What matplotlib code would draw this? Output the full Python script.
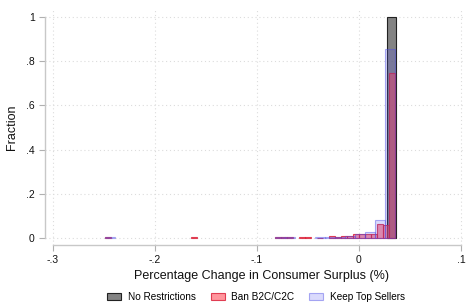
import matplotlib
matplotlib.use("Agg")
import matplotlib.pyplot as plt
from matplotlib.patches import Patch

plt.rcParams['font.family'] = ['Liberation Sans', 'DejaVu Sans']

# No Restrictions
black_centers = [0.0319]
black_heights = [1.0]

# Ban B2C/C2C
red_centers = [0.0321, 0.0262, 0.0203, 0.0144, 0.0085, 0.0027, -0.0032, -0.0091,
               -0.0150, -0.0209, -0.0267, -0.0385, -0.0503, -0.0562, -0.0679,
               -0.0738, -0.0797, -0.1620, -0.2461]
red_heights = [0.748, 0.057, 0.063, 0.018, 0.018, 0.018, 0.016, 0.010,
               0.009, 0.003, 0.007, 0.002, 0.003, 0.003, 0.003,
               0.003, 0.003, 0.003, 0.003]

# Keep Top Sellers
blue_centers = [0.0304, 0.0206, 0.0108, 0.0010, -0.0088, -0.0186, -0.0284,
                -0.0382, -0.0676, -0.0774, -0.2440]
blue_heights = [0.854, 0.080, 0.026, 0.018, 0.008, 0.004, 0.003,
                0.003, 0.003, 0.003, 0.003]

x_ticks = [-0.3, -0.2, -0.1, 0.0, 0.1]
x_labels = ["-.3", "-.2", "-.1", "0", ".1"]
y_ticks = [0, 0.2, 0.4, 0.6, 0.8, 1.0]
y_labels = ["0", ".2", ".4", ".6", ".8", "1"]

W, H = 467, 307
fig = plt.figure(figsize=(W / 100, H / 100), dpi=100)
ax = fig.add_axes([45 / W, 62 / H, 420 / W, 235 / H])

ax.bar(black_centers, black_heights, width=0.0088, color=(0.35, 0.35, 0.35, 0.75),
       edgecolor='#222222', linewidth=0.8, zorder=2)
ax.bar(red_centers, red_heights, width=0.00588, color=(1.0, 0.25, 0.3, 0.55),
       edgecolor=(0.85, 0.1, 0.2, 0.8), linewidth=0.8, zorder=3)
ax.bar(blue_centers, blue_heights, width=0.0098, color=(0.35, 0.35, 0.95, 0.22),
       edgecolor=(0.3, 0.3, 0.9, 0.45), linewidth=0.8, zorder=4)

ax.set_xlim(-0.3 - 8 / 1020, 0.1 + 4 / 1020)
ax.set_ylim(-7 / 221, 1 + 7 / 221)

ax.set_xticks(x_ticks)
ax.set_xticklabels(x_labels)
ax.set_yticks(y_ticks)
ax.set_yticklabels(y_labels)

for s in ['top', 'right']:
    ax.spines[s].set_visible(False)
for s in ['left', 'bottom']:
    ax.spines[s].set_color('#c8c8c8')
    ax.spines[s].set_linewidth(1.0)
ax.spines['left'].set_bounds(0, 1)
ax.spines['bottom'].set_bounds(-0.3, 0.1)

ax.tick_params(axis='both', colors='#b0b0b0', labelcolor='#111111', labelsize=7.5,
               length=4, width=0.8, direction='out')
ax.grid(True, linestyle=(0, (1, 2.5)), color='#dcdcdc', linewidth=0.8, zorder=0)
ax.set_axisbelow(True)

ax.set_xlabel("Percentage Change in Consumer Surplus (%)", fontsize=9, color='#111111')
ax.xaxis.set_label_coords((261 - 45) / 420, -(270 - 245) / 235 - 0.0)
ax.set_ylabel("Fraction", fontsize=9, color='#111111')
ax.yaxis.set_label_coords(-(45 - 18) / 420, 0.5 - 0.0)

handles = [
    Patch(facecolor=(0.35, 0.35, 0.35, 0.75), edgecolor='#222222', linewidth=0.8, label='No Restrictions'),
    Patch(facecolor=(1.0, 0.25, 0.3, 0.55), edgecolor=(0.85, 0.1, 0.2, 0.8), linewidth=0.8, label='Ban B2C/C2C'),
    Patch(facecolor=(0.35, 0.35, 0.95, 0.22), edgecolor=(0.3, 0.3, 0.9, 0.45), linewidth=0.8, label='Keep Top Sellers'),
]
fig.legend(handles=handles, loc='center', bbox_to_anchor=(256 / W, 1 - 297 / H), ncol=3,
           frameon=False, fontsize=7.2, handlelength=1.4, handleheight=0.6,
           columnspacing=1.5, handletextpad=0.65)

fig.savefig("out.png", dpi=100)
